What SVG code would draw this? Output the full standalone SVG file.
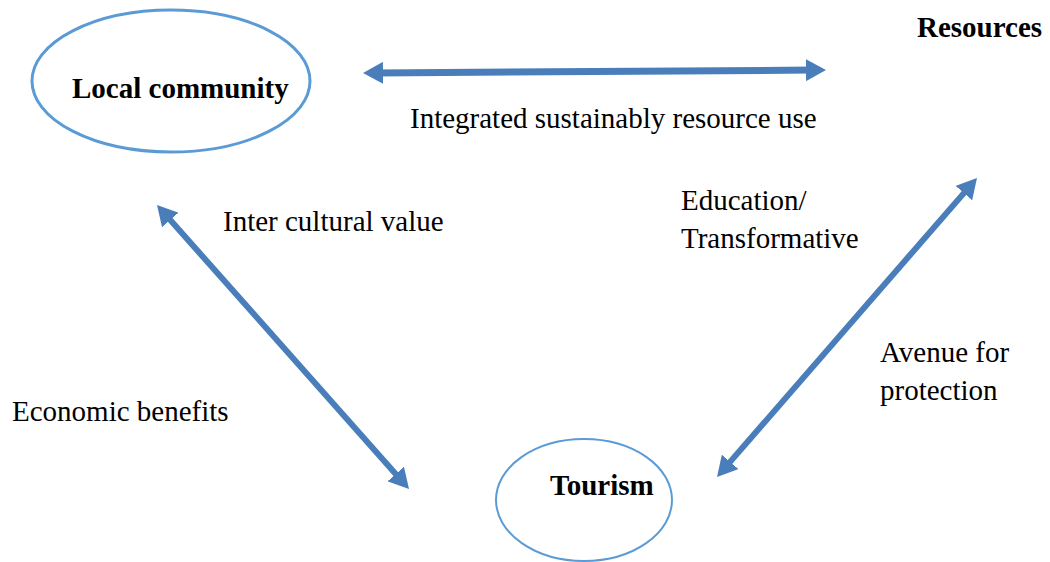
<svg xmlns="http://www.w3.org/2000/svg" width="1050" height="562" viewBox="0 0 1050 562" font-family="'Liberation Serif', 'Times New Roman', 'DejaVu Serif', serif">
  <style>
    .node { fill: none; stroke: #5b9bd5; }
    text { font-family: "Liberation Serif", "Times New Roman", "DejaVu Serif", serif; font-size: 29px; fill: #000; }
    .title { font-weight: bold; }
    .link { stroke: #4a7ebb; fill: none; marker-start: url(#head); marker-end: url(#head); }
  </style>
  <defs>
    <marker id="head" markerUnits="userSpaceOnUse" viewBox="0 0 20 22" markerWidth="20" markerHeight="22" refX="6" refY="11" orient="auto-start-reverse">
      <path d="M0,0 L20,11 L0,22 Z" fill="#4a7ebb"/>
    </marker>
  </defs>
  <rect width="1050" height="562" fill="#ffffff"/>

  <g id="local-community">
    <ellipse class="node" cx="171" cy="81" rx="139" ry="71" stroke-width="3"/>
    <text class="title" x="72" y="98" font-family="Liberation Serif, serif">Local community</text>
  </g>

  <g id="resources">
    <text class="title" x="917" y="37" font-family="Liberation Serif, serif">Resources</text>
  </g>

  <g id="tourism">
    <ellipse class="node" cx="584" cy="500" rx="88" ry="61" stroke-width="2"/>
    <text class="title" x="550" y="495" font-family="Liberation Serif, serif">Tourism</text>
  </g>

  <g id="connectors">
    <line class="link" stroke-width="7" x1="377" y1="72.9" x2="812" y2="70.1"/>
    <line class="link" stroke-width="6" x1="166.3" y1="215.5" x2="399.7" y2="478.5"/>
    <line class="link" stroke-width="6" x1="967.8" y1="188.6" x2="726.2" y2="466.4"/>
  </g>

  <g id="labels">
    <text x="410" y="128">Integrated sustainably resource use</text>
    <text x="223" y="231">Inter cultural value</text>
    <text x="12" y="421">Economic benefits</text>
    <text x="681" y="210">Education/</text>
    <text x="681" y="248">Transformative</text>
    <text x="880" y="362">Avenue for</text>
    <text x="880" y="400">protection</text>
  </g>
</svg>
